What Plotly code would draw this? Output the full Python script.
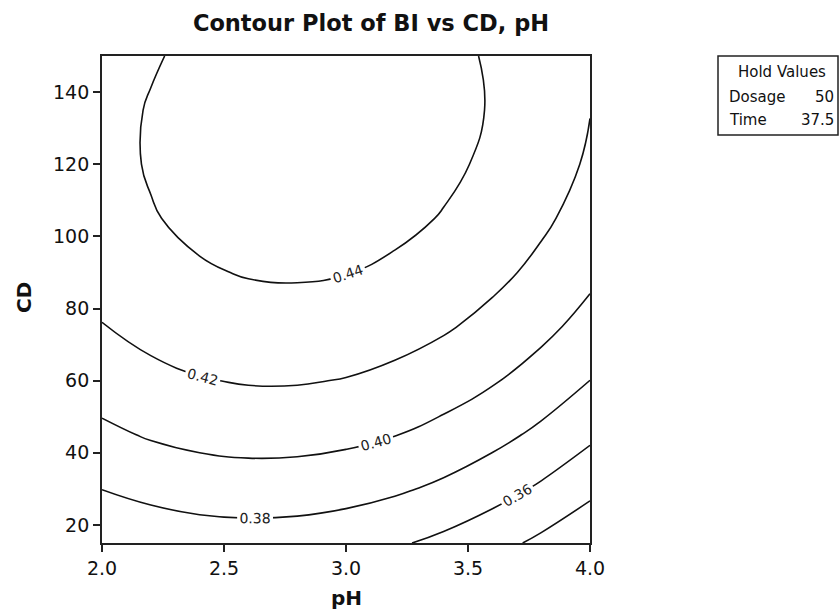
import plotly.graph_objects as go

# pH (x) values of the grid
ph = [2.0, 2.2, 2.4, 2.6, 2.8, 3.0, 3.2, 3.4, 3.6, 3.8, 4.0]
# CD (y) values of the grid
cd = [15, 30, 45, 60, 75, 90, 105, 120, 135, 150]
# BI values (rows = CD, columns = pH), estimated from the reference contours
bi = [
    [0.3618, 0.3669, 0.3700, 0.3711, 0.3702, 0.3673, 0.3624, 0.3556, 0.3467, 0.3359, 0.3231],
    [0.3803, 0.3856, 0.3891, 0.3905, 0.3899, 0.3873, 0.3828, 0.3763, 0.3677, 0.3572, 0.3448],
    [0.3960, 0.4017, 0.4054, 0.4072, 0.4069, 0.4047, 0.4005, 0.3942, 0.3860, 0.3759, 0.3637],
    [0.4090, 0.4151, 0.4191, 0.4212, 0.4212, 0.4193, 0.4154, 0.4095, 0.4016, 0.3918, 0.3799],
    [0.4194, 0.4257, 0.4301, 0.4324, 0.4328, 0.4312, 0.4276, 0.4221, 0.4145, 0.4050, 0.3934],
    [0.4270, 0.4336, 0.4383, 0.4410, 0.4417, 0.4404, 0.4372, 0.4319, 0.4247, 0.4155, 0.4043],
    [0.4319, 0.4389, 0.4439, 0.4469, 0.4479, 0.4470, 0.4440, 0.4391, 0.4322, 0.4233, 0.4124],
    [0.4341, 0.4414, 0.4467, 0.4500, 0.4514, 0.4508, 0.4481, 0.4435, 0.4369, 0.4283, 0.4178],
    [0.4336, 0.4412, 0.4468, 0.4505, 0.4522, 0.4518, 0.4495, 0.4452, 0.4390, 0.4307, 0.4204],
    [0.4303, 0.4383, 0.4443, 0.4482, 0.4502, 0.4502, 0.4482, 0.4443, 0.4383, 0.4304, 0.4204],
]
x_ticks = [2.0, 2.5, 3.0, 3.5, 4.0]
y_ticks = [20, 40, 60, 80, 100, 120, 140]
hold_names = ["Dosage", "Time"]
hold_values = ["50", "37.5"]

FONT = "DejaVu Sans"

fig = go.Figure(go.Contour(
    x=ph, y=cd, z=bi,
    contours=dict(start=0.34, end=0.44, size=0.02, coloring="lines",
                  showlabels=True, labelformat=".2f",
                  labelfont=dict(family=FONT, size=14, color="#222")),
    line=dict(width=1.6, smoothing=1.3),
    colorscale=[[0, "#111"], [1, "#111"]],
    showscale=False, hoverinfo="skip",
))

axis_common = dict(showline=True, mirror=True, linecolor="#222", linewidth=1.8,
                   ticks="outside", ticklen=7, tickwidth=1.6, tickcolor="#222",
                   showgrid=False, zeroline=False,
                   tickfont=dict(family=FONT, size=19, color="#111"))
fig.update_xaxes(range=[2.0, 4.0], tickvals=x_ticks, tickformat=".1f", **axis_common)
fig.update_yaxes(range=[15, 150], tickvals=y_ticks, **axis_common)

W, H = 839, 613
L, R, T, B = 102, 590, 56, 543
def px(xp):
    return (xp - L) / (R - L)
def py(yp):
    return (B - yp) / (B - T)

ann = [
    dict(text="<b>pH</b>", x=px(346), y=py(598), xref="paper", yref="paper",
         showarrow=False, font=dict(family=FONT, size=20, color="#111"),
         xanchor="center", yanchor="middle"),
    dict(text="<b>CD</b>", x=px(24), y=py(298), xref="paper", yref="paper",
         showarrow=False, textangle=-90, font=dict(family=FONT, size=20, color="#111"),
         xanchor="center", yanchor="middle"),
    dict(text="Hold Values", x=px(782), y=py(72), xref="paper", yref="paper",
         showarrow=False, font=dict(family=FONT, size=15, color="#111"),
         xanchor="center", yanchor="middle"),
]
for i, (n, v) in enumerate(zip(hold_names, hold_values)):
    yy = 97 + 23 * i
    ann.append(dict(text=n, x=px(727), y=py(yy), xref="paper", yref="paper",
                    showarrow=False, font=dict(family=FONT, size=15, color="#111"),
                    xanchor="left", yanchor="middle"))
    ann.append(dict(text=v, x=px(836), y=py(yy), xref="paper", yref="paper",
                    showarrow=False, font=dict(family=FONT, size=15, color="#111"),
                    xanchor="right", yanchor="middle"))

fig.update_layout(
    width=W, height=H,
    margin=dict(l=L, r=W - R, t=T, b=H - B),
    paper_bgcolor="white", plot_bgcolor="white",
    title=dict(text="<b>Contour Plot of BI vs CD, pH</b>", x=371 / W, xanchor="center",
               y=1 - 23 / H, yanchor="middle", yref="container",
               font=dict(family=FONT, size=22.5, color="#111")),
    annotations=ann,
    shapes=[dict(type="rect", xref="paper", yref="paper",
                 x0=px(718), x1=px(838), y0=py(135), y1=py(56),
                 line=dict(color="#222", width=1.5))],
)

fig.write_html("out.html")
